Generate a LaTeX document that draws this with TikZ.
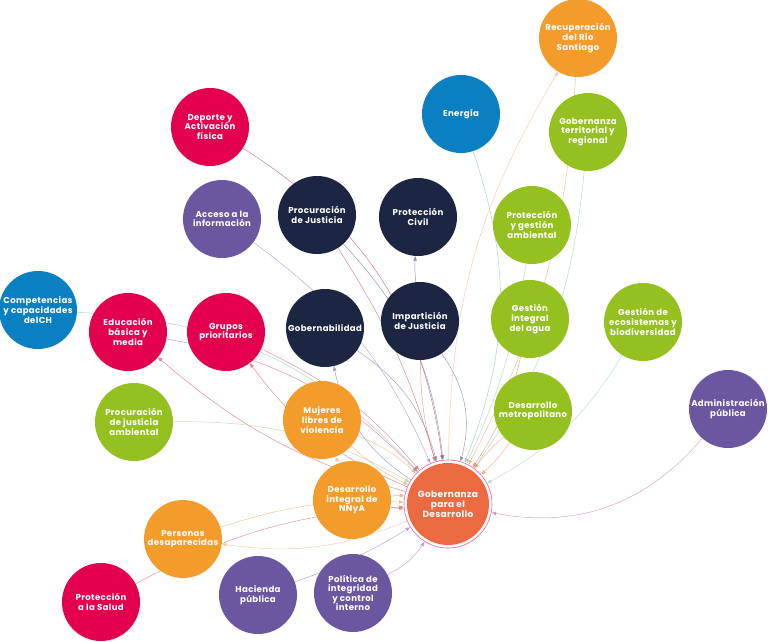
\documentclass[tikz,border=0pt]{standalone}
\usepackage{fontspec}
\setmainfont{Poppins}[LetterSpace=4]
\usetikzlibrary{arrows.meta,backgrounds}
\definecolor{crim}{HTML}{E2004F}
\definecolor{navy}{HTML}{1C2541}
\definecolor{blu}{HTML}{0A7FC1}
\definecolor{grn}{HTML}{94C11F}
\definecolor{org}{HTML}{F39C2C}
\definecolor{pur}{HTML}{6B57A0}
\definecolor{coral}{HTML}{EC6A42}
\definecolor{ringpink}{HTML}{EE5E96}
\definecolor{lred}{HTML}{C9526E}
\definecolor{llav}{HTML}{A094C8}
\definecolor{lred2}{HTML}{D0606A}
\definecolor{lnavy}{HTML}{7080A8}
\definecolor{lgray}{HTML}{6E7A96}
\definecolor{lsalm}{HTML}{E8826E}
\definecolor{lblue}{HTML}{8CC0DA}
\definecolor{lteal}{HTML}{9CCFB8}
\definecolor{lorg}{HTML}{F5A77A}
\definecolor{lorg2}{HTML}{F8BE8C}
\definecolor{lgrn}{HTML}{A8D0A8}
\definecolor{lcor}{HTML}{E8906A}
\definecolor{lteal2}{HTML}{A6D4C4}
\definecolor{lpink}{HTML}{C48AB8}
\definecolor{lcor2}{HTML}{EF9A70}
\definecolor{lcyan}{HTML}{8FC4D8}
\definecolor{lrose}{HTML}{D86478}
\definecolor{lrose2}{HTML}{D8707A}
\definecolor{lolive}{HTML}{B5CF90}
\definecolor{lslate}{HTML}{7E8AA8}
\definecolor{lapri}{HTML}{F4AE72}
\definecolor{lapri2}{HTML}{F5B87A}
\definecolor{lcor3}{HTML}{F0966E}
\definecolor{lapri3}{HTML}{F3B070}
\definecolor{lapri4}{HTML}{F6BE88}
\definecolor{lrose3}{HTML}{D9708A}
\definecolor{lplum}{HTML}{AA8CBE}
\tikzset{
  bub/.style={circle,minimum size=78pt,inner sep=0pt,fill=#1,text=white,align=center,
    font=\fontsize{8.6}{9.6}\selectfont\bfseries},
  lnk/.style={draw=#1,line width=0.5pt,opacity=0.75,-{Triangle[length=4.5pt,width=3.5pt]}},
}
\begin{document}
\begin{tikzpicture}[x=1pt,y=1pt]
\useasboundingbox (0,0) rectangle (768,641);
% nodes
\node[bub=org] (recup) at (578,603) {Recuperación\\del Río\\Santiago};
\node[bub=blu] (energia) at (461,527) {Energía};
\node[bub=grn] (gobterr) at (588,509) {Gobernanza\\territorial y\\regional};
\node[bub=crim] (deporte) at (210,514) {Deporte y\\Activación\\física};
\node[bub=pur] (acceso) at (222,422) {Acceso a la\\información};
\node[bub=navy] (procj) at (317,426) {Procuración\\de Justicia};
\node[bub=navy] (protciv) at (418,424) {Protección\\Civil};
\node[bub=grn] (protamb) at (532,416) {Protección\\y gestión\\ambiental};
\node[bub=blu] (compet) at (38,331) {Competencias\\y capacidades\\delCH};
\node[bub=crim] (educ) at (128,309) {Educación\\básica y\\media};
\node[bub=crim] (grupos) at (226,309) {Grupos\\prioritarios};
\node[bub=navy] (gobern) at (325,313) {Gobernabilidad};
\node[bub=navy] (impart) at (420,320) {Impartición\\de Justicia};
\node[bub=grn] (gestagua) at (530,322) {Gestión\\integral\\del agua};
\node[bub=grn] (ecosis) at (643,319) {Gestión de\\ecosistemas y\\biodiversidad};
\node[bub=grn] (projamb) at (134,219) {Procuración\\de justicia\\ambiental};
\node[bub=org] (mujeres) at (322,221) {Mujeres\\libres de\\violencia};
\node[bub=grn] (desmet) at (533,230) {Desarrollo\\metropolitano};
\node[bub=pur] (admin) at (728,232) {Administración\\pública};
\node[bub=org] (nnya) at (352,141) {Desarrollo\\integral de\\NNyA};
\node[bub=org] (personas) at (183,102) {Personas\\desaparecidas};
\node[bub=crim] (salud) at (101,39) {Protección\\a la Salud};
\node[bub=pur] (hacienda) at (258,46) {Hacienda\\pública};
\node[bub=pur] (politica) at (353,48) {Política de\\integridad\\y control\\interno};
\node[circle,minimum size=82pt,inner sep=0pt,fill=coral,outer sep=3.5pt,text=white,align=center,
  font=\fontsize{9}{10}\selectfont\bfseries] (gdes) at (448,137) {Gobernanza\\para el\\Desarrollo};
\draw[ringpink,line width=0.6pt] (gdes.center) circle (44pt);
% links
\begin{scope}[on background layer]
\draw[lnk=lred] (deporte) to[bend left=25] (gdes);
\draw[lnk=llav] (acceso) to[bend left=15] (gdes);
\draw[lnk=lred2] (procj) to[bend left=8] (gdes);
\draw[lnk=lnavy] (procj) to[bend left=18] (gdes);
\draw[lnk=lgray] (impart) to[bend left=5] (protciv);
\draw[lnk=lnavy] (impart) to[bend left=25] (gdes);
\draw[lnk=lsalm] (impart) to[bend right=8] (gdes);
\draw[lnk=lblue] (energia) to[bend left=20] (gdes);
\draw[lnk=lteal] (gobterr) to[bend left=15] (gdes);
\draw[lnk=lorg] (recup) to[bend left=12] (gdes);
\draw[lnk=lorg2] (gdes) to[bend left=15] (recup);
\draw[lnk=lgrn] (protamb) to[bend left=8] (gdes);
\draw[lnk=lcor] (gestagua) to[bend left=10] (gdes);
\draw[lnk=lteal2] (ecosis) to[bend left=15] (gdes);
\draw[lnk=lpink] (admin) to[bend left=30] (gdes);
\draw[lnk=lcor2] (desmet) to[bend left=6] (gdes);
\draw[lnk=lcor2] (desmet) to[bend right=6] (gdes);
\draw[lnk=lcyan] (compet) to[bend left=22] (gdes);
\draw[lnk=lrose] (gdes) to[bend left=12] (educ);
\draw[lnk=lrose] (gdes) to[bend left=15] (grupos);
\draw[lnk=lrose2] (grupos) to[bend left=12] (gdes);
\draw[lnk=lrose2] (educ) to[bend left=18] (gdes);
\draw[lnk=lolive] (projamb) to[bend left=15] (gdes);
\draw[lnk=lslate] (gdes) to[bend left=22] (gobern);
\draw[lnk=lslate] (gobern) to[bend left=20] (gdes);
\draw[lnk=lapri] (mujeres) to[bend left=10] (gdes);
\draw[lnk=lapri] (mujeres) to[bend right=8] (gdes);
\draw[lnk=lapri2] (nnya) to (mujeres);
\draw[lnk=lcor3] (nnya) to[bend left=8] (gdes);
\draw[lnk=lcor3] (nnya) to[bend right=8] (gdes);
\draw[lnk=lapri3] (personas) to[bend left=10] (gdes);
\draw[lnk=lapri4] (gdes) to[bend left=15] (personas);
\draw[lnk=lrose3] (salud) to[bend left=12] (gdes);
\draw[lnk=lplum] (hacienda) to[bend right=6] (gdes);
\draw[lnk=lplum] (politica) to[bend right=15] (gdes);
\end{scope}
\end{tikzpicture}
\end{document}
